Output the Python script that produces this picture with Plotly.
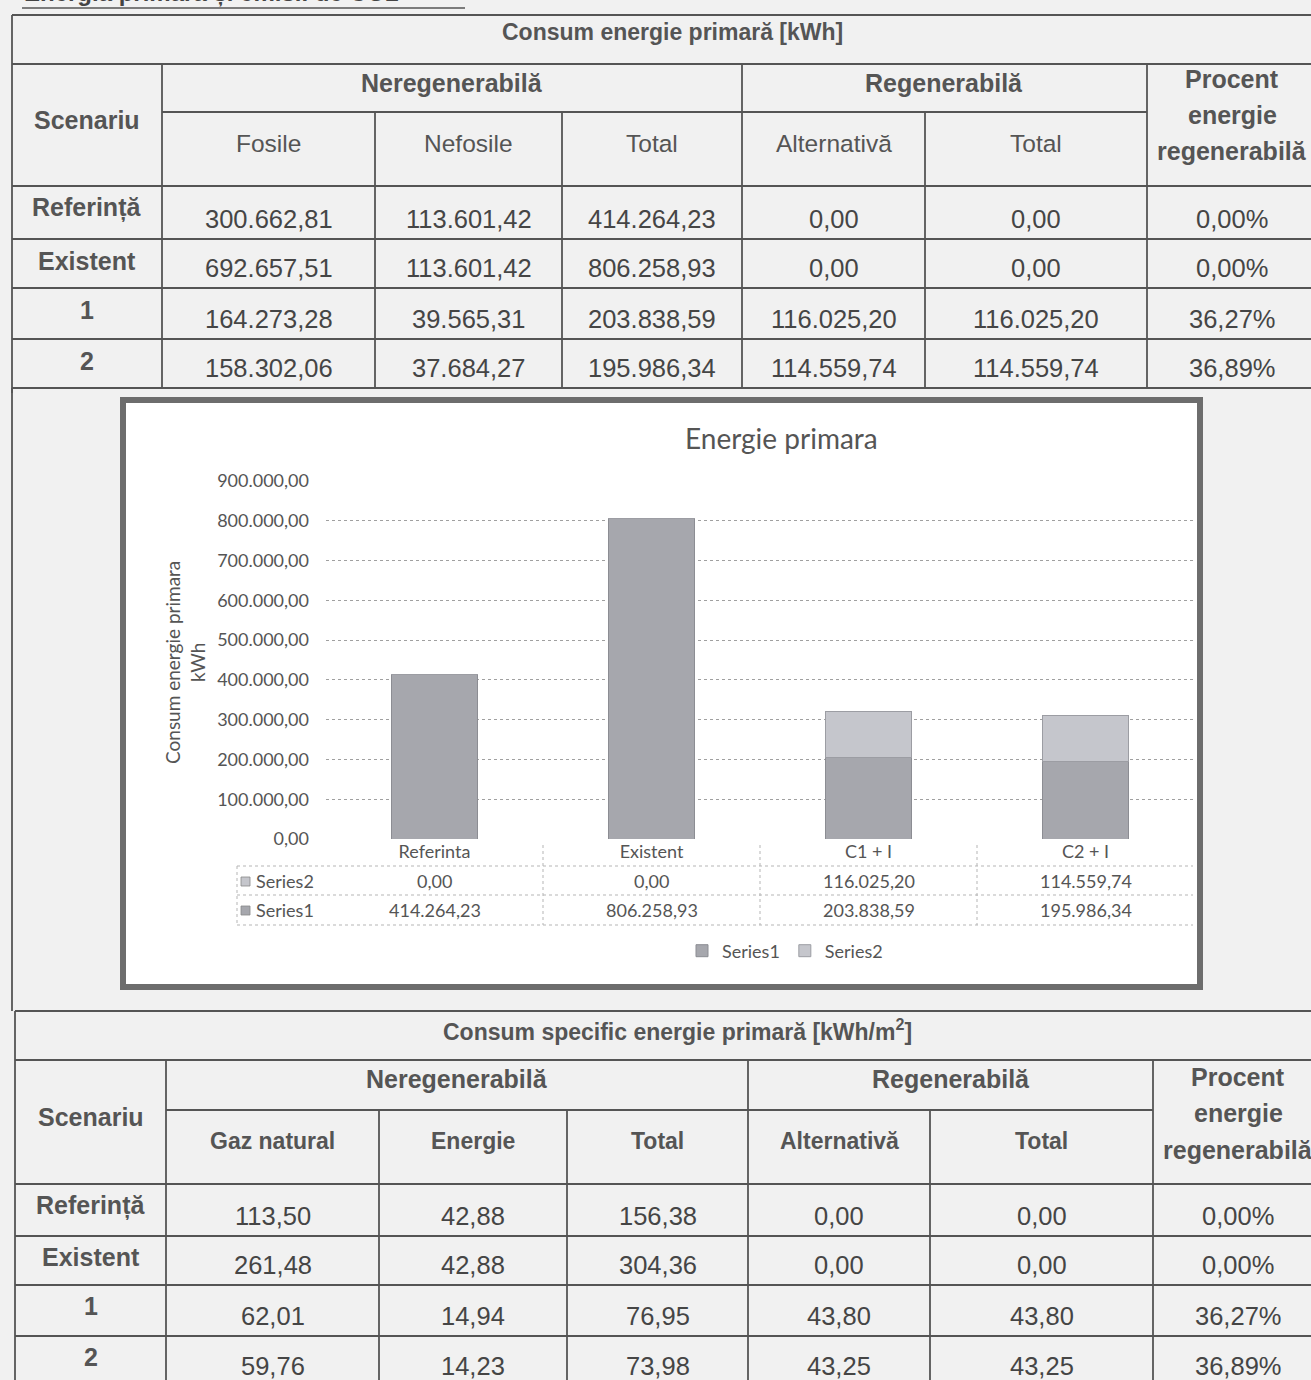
import plotly.graph_objects as go

# ---------------- data ----------------
scenarios = ["Referință", "Existent", "1", "2"]

# table 1 : Consum energie primară [kWh]
t1_fosile = [300662.81, 692657.51, 164273.28, 158302.06]
t1_nefosile = [113601.42, 113601.42, 39565.31, 37684.27]
t1_total_nereg = [414264.23, 806258.93, 203838.59, 195986.34]
t1_alternativa = [0.00, 0.00, 116025.20, 114559.74]
t1_total_reg = [0.00, 0.00, 116025.20, 114559.74]
t1_procent = [0.00, 0.00, 36.27, 36.89]

# chart
categories = ["Referinta", "Existent", "C1 + I", "C2 + I"]
series1 = [414264.23, 806258.93, 203838.59, 195986.34]
series2 = [0.00, 0.00, 116025.20, 114559.74]

# table 2 : Consum specific energie primară [kWh/m2]
t2_gaz = [113.50, 261.48, 62.01, 59.76]
t2_energie = [42.88, 42.88, 14.94, 14.23]
t2_total_nereg = [156.38, 304.36, 76.95, 73.98]
t2_alternativa = [0.00, 0.00, 43.80, 43.25]
t2_total_reg = [0.00, 0.00, 43.80, 43.25]
t2_procent = [0.00, 0.00, 36.27, 36.89]

# ---------------- helpers ----------------
W, H = 1311, 1380


def px(x):
    return x / W


def py(y):
    return 1 - y / H


def ro(v, d=2):
    s = f"{v:,.{d}f}"
    return s.replace(",", "X").replace(".", ",").replace("X", ".")


def pct(v):
    return ro(v) + "%"


TF = "Liberation Sans, Arial, sans-serif"
CF = "Lato, Carlito, Calibri, sans-serif"
LINE_C = "#555555"
TXT = "#454545"
HDR = "#555555"
C1 = "#a6a7ad"
C2 = "#c5c6cc"

fig = go.Figure()
fig.add_trace(go.Bar(name="Series1", x=categories, y=series1, width=0.4,
                     marker=dict(color=C1, line=dict(color="#8c8d93", width=1))))
fig.add_trace(go.Bar(name="Series2", x=categories, y=series2, width=0.4,
                     marker=dict(color=C2, line=dict(color="#9c9da3", width=1))))

shapes = []
ann = []


def hline(y, x0, x1, color=LINE_C, width=1.8, dash="solid"):
    shapes.append(dict(type="line", xref="paper", yref="paper", x0=px(x0), x1=px(x1),
                       y0=py(y), y1=py(y), line=dict(color=color, width=width, dash=dash)))


def vline(x, y0, y1, color=LINE_C, width=1.8, dash="solid"):
    shapes.append(dict(type="line", xref="paper", yref="paper", x0=px(x), x1=px(x),
                       y0=py(y0), y1=py(y1), line=dict(color=color, width=width, dash=dash)))


def text(x, y, t, size, bold=False, color=TXT, family=TF, xanchor="center"):
    if bold:
        t = "<b>" + t + "</b>"
    ann.append(dict(x=px(x), y=py(y), xref="paper", yref="paper", text=t, showarrow=False,
                    xanchor=xanchor, yanchor="middle",
                    font=dict(family=family, size=size, color=color)))


# ---------------- page title (cut off at the top) ----------------
ann.append(dict(x=px(22), y=py(9), xref="paper", yref="paper",
                text="<b>Energia primară și emisii de CO2</b>", showarrow=False,
                xanchor="left", yanchor="bottom",
                font=dict(family=TF, size=24, color="#444")))
hline(8, 22, 465, color="#555", width=1.5)


# ---------------- generic table builder ----------------
def build_table(top, title, cols, sub_y, hdr_bot, row_lines, left, right,
                sub_labels, rows, label_dy, value_dy, title_y, grp_y, sub_lbl_y, scen_y,
                proc_ys, title_size, sub_size, sub_bold):
    hline(top, left, right)
    hline(top + 49, left, right)
    hline(sub_y, cols[0], cols[5])
    for y in [hdr_bot] + row_lines:
        hline(y, left, right)
    vline(left, top, row_lines[-1] + 5)
    for i, x in enumerate(cols):
        y_start = top + 49 if i in (0, 3, 5) else sub_y
        vline(x, y_start, row_lines[-1])
    text((left + right) / 2 + 8, title_y, title, title_size, bold=True, color=HDR)
    text((left + cols[0]) / 2, scen_y, "Scenariu", 25, bold=True, color=HDR)
    text((cols[0] + cols[3]) / 2, grp_y, "Neregenerabilă", 25, bold=True, color=HDR)
    text((cols[3] + cols[5]) / 2, grp_y, "Regenerabilă", 25, bold=True, color=HDR)
    pc = (cols[5] + right) / 2
    for y, t in zip(proc_ys, ["Procent", "energie", "regenerabilă"]):
        text(pc, y, t, 25, bold=True, color=HDR)
    bounds = cols + [right]
    for j, lbl in enumerate(sub_labels):
        text((bounds[j] + bounds[j + 1]) / 2, sub_lbl_y, lbl, sub_size, bold=sub_bold,
             color=HDR)
    tops = [hdr_bot] + row_lines[:-1]
    for r in range(len(scenarios)):
        y0, y1 = tops[r], row_lines[r]
        text((left + cols[0]) / 2, y0 + label_dy, scenarios[r], 25, bold=True, color=HDR)
        for j, vals in enumerate(rows):
            text((bounds[j] + bounds[j + 1]) / 2, y1 - value_dy, vals[r], 25.5)


t1_rows = [[ro(v) for v in t1_fosile], [ro(v) for v in t1_nefosile],
           [ro(v) for v in t1_total_nereg], [ro(v) for v in t1_alternativa],
           [ro(v) for v in t1_total_reg], [pct(v) for v in t1_procent]]
build_table(top=15, title="Consum energie primară [kWh]",
            cols=[162, 375, 562, 742, 925, 1147], sub_y=112, hdr_bot=186,
            row_lines=[239, 288, 339, 388], left=12, right=1317,
            sub_labels=["Fosile", "Nefosile", "Total", "Alternativă", "Total"],
            rows=t1_rows, label_dy=22, value_dy=20, title_y=32, grp_y=83,
            sub_lbl_y=143, scen_y=120, proc_ys=[79, 115, 151],
            title_size=23, sub_size=24.5, sub_bold=False)

t2_rows = [[ro(v) for v in t2_gaz], [ro(v) for v in t2_energie],
           [ro(v) for v in t2_total_nereg], [ro(v) for v in t2_alternativa],
           [ro(v) for v in t2_total_reg], [pct(v) for v in t2_procent]]
build_table(top=1011, title="Consum specific energie primară [kWh/m<sup>2</sup>]",
            cols=[166, 379, 567, 748, 930, 1153], sub_y=1110, hdr_bot=1184,
            row_lines=[1236, 1285, 1336, 1386], left=15, right=1323,
            sub_labels=["Gaz natural", "Energie", "Total", "Alternativă", "Total"],
            rows=t2_rows, label_dy=21, value_dy=20, title_y=1030, grp_y=1079,
            sub_lbl_y=1141, scen_y=1117, proc_ys=[1077, 1113, 1150],
            title_size=23, sub_size=23, sub_bold=True)
vline(12, 388, 1011)

# ---------------- chart frame ----------------
shapes.append(dict(type="rect", xref="paper", yref="paper", layer="below",
                   x0=px(123), x1=px(1200), y0=py(400), y1=py(987),
                   fillcolor="white", line=dict(color="#6d6d6d", width=6)))

DT = "#b5b5b5"
for y in [866, 895, 925]:
    hline(y, 237, 1193, color=DT, width=1, dash="dot")
for x in [543, 760, 977]:
    vline(x, 845, 925, color=DT, width=1, dash="dot")
vline(237, 866, 925, color=DT, width=1, dash="dot")

for y, name, col in [(881, "Series2", C2), (910, "Series1", C1)]:
    shapes.append(dict(type="rect", xref="paper", yref="paper", x0=px(241), x1=px(250),
                       y0=py(y - 4), y1=py(y + 5), fillcolor=col,
                       line=dict(color="#888", width=0.8)))
    text(254, y, name, 18, color="#555", family=CF, xanchor="left")

for i, c in enumerate(categories):
    for y, vals in [(881, series2), (910, series1)]:
        ann.append(dict(x=c, xref="x", y=py(y), yref="paper", text=ro(vals[i]),
                        showarrow=False, xanchor="center", yanchor="middle",
                        font=dict(family=CF, size=18, color="#555")))

text(781, 438, "Energie primara", 28, color="#555", family=CF)
ann.append(dict(x=px(185), y=py(663), xref="paper", yref="paper",
                text="Consum energie primara<br>kWh", showarrow=False, textangle=-90,
                xanchor="center", yanchor="middle",
                font=dict(family=CF, size=19, color="#555")))

fig.update_layout(
    width=W, height=H, autosize=False,
    margin=dict(l=0, r=0, t=0, b=0, pad=0, autoexpand=False),
    paper_bgcolor="#f1f1f1", plot_bgcolor="white",
    separators=",.",
    barmode="stack",
    shapes=shapes, annotations=ann,
    showlegend=True,
    legend=dict(orientation="h", traceorder="normal", x=px(785), xanchor="center",
                y=py(951), yanchor="middle",
                font=dict(family=CF, size=18, color="#555"), bgcolor="rgba(0,0,0,0)",
                itemwidth=30),
    xaxis=dict(domain=[px(326), px(1194)], showline=False, ticks="", showgrid=False,
               automargin=False,
               tickfont=dict(family=CF, size=18, color="#555"), fixedrange=True),
    yaxis=dict(domain=[py(839), py(481)], range=[0, 900000], dtick=100000,
               tickformat=",.2f", showgrid=True, gridcolor="#a0a0a0", griddash="dot",
               gridwidth=1, zeroline=False, showline=False, ticks="",
               ticklabelstandoff=16, automargin=False,
               tickfont=dict(family=CF, size=18, color="#555"), fixedrange=True),
)

fig.write_html("out.html")
